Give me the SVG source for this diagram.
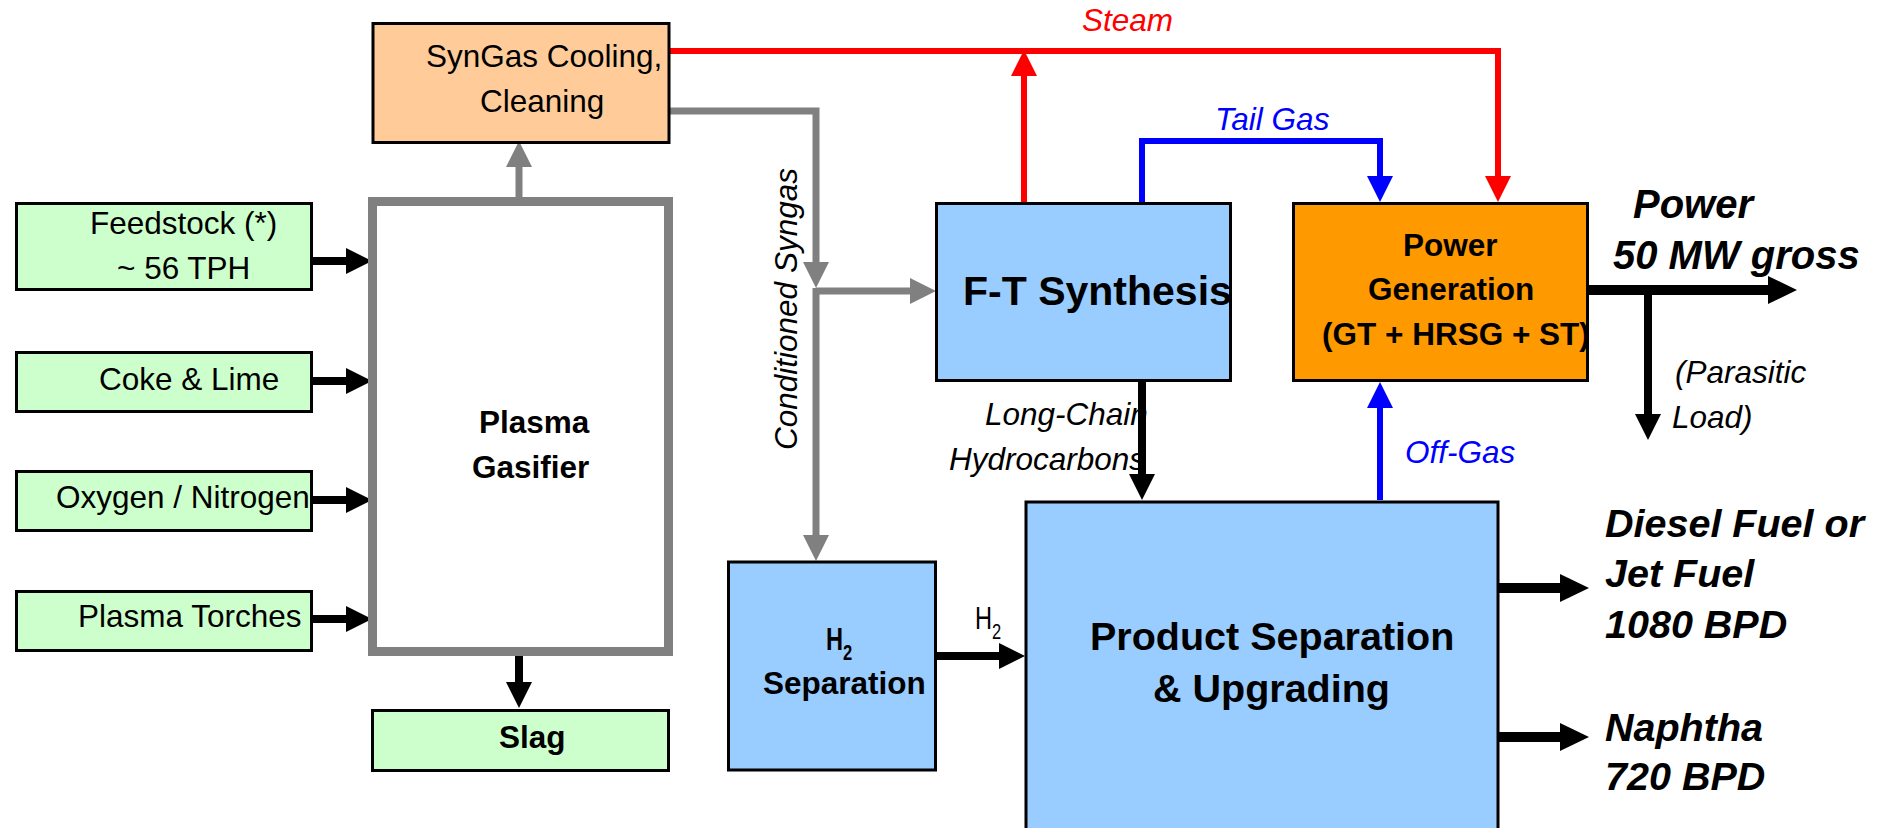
<svg xmlns="http://www.w3.org/2000/svg" width="1882" height="828" viewBox="0 0 1882 828">
<style>
text{font-family:"Liberation Sans",Arial,sans-serif;font-size:31.5px;fill:#000}
.b{font-weight:bold}
.i{font-style:italic}
.bi{font-weight:bold;font-style:italic;font-size:39.5px}
.sub{font-size:22px}
.box{stroke:#000;stroke-width:3}
.green{fill:#CCFFCC}
.peach{fill:#FFCC99}
.blue{fill:#99CCFF}
.orange{fill:#FF9900}
.k{stroke:#000;stroke-width:8;fill:none}
.kw{stroke:#000;stroke-width:10;fill:none}
.g{stroke:#808080;stroke-width:7;fill:none}
.r{stroke:#FF0000;stroke-width:6;fill:none}
.bl{stroke:#0000FF;stroke-width:6;fill:none}
</style>
<defs>
<marker id="ak" markerUnits="userSpaceOnUse" markerWidth="26" markerHeight="26" refX="1" refY="13" orient="auto"><path d="M0,0 L26,13 L0,26 z" fill="#000"/></marker>
<marker id="akL" markerUnits="userSpaceOnUse" markerWidth="29" markerHeight="28" refX="1" refY="14" orient="auto"><path d="M0,0 L29,14 L0,28 z" fill="#000"/></marker>
<marker id="ag" markerUnits="userSpaceOnUse" markerWidth="26" markerHeight="26" refX="1" refY="13" orient="auto"><path d="M0,0 L26,13 L0,26 z" fill="#808080"/></marker>
<marker id="ar" markerUnits="userSpaceOnUse" markerWidth="26" markerHeight="26" refX="1" refY="13" orient="auto"><path d="M0,0 L26,13 L0,26 z" fill="#FF0000"/></marker>
<marker id="ab" markerUnits="userSpaceOnUse" markerWidth="26" markerHeight="26" refX="1" refY="13" orient="auto"><path d="M0,0 L26,13 L0,26 z" fill="#0000FF"/></marker>
</defs>
<rect width="1882" height="828" fill="#fff"/>

<g id="connectors">
<line class="k" x1="313" y1="261" x2="347" y2="261" marker-end="url(#ak)"/>
<line class="k" x1="313" y1="381" x2="347" y2="381" marker-end="url(#ak)"/>
<line class="k" x1="313" y1="500" x2="347" y2="500" marker-end="url(#ak)"/>
<line class="k" x1="313" y1="619" x2="347" y2="619" marker-end="url(#ak)"/>
<line class="g" x1="519" y1="197" x2="519" y2="166" marker-end="url(#ag)"/>
<line class="k" x1="519" y1="655" x2="519" y2="683" marker-end="url(#ak)"/>
<polyline class="g" points="670,111 816,111 816,263" marker-end="url(#ag)"/>
<line class="g" x1="816" y1="288" x2="816" y2="536" marker-end="url(#ag)"/>
<line class="g" x1="816" y1="291" x2="911" y2="291" marker-end="url(#ag)"/>
<polyline class="r" points="670,51 1498,51 1498,177" marker-end="url(#ar)"/>
<line class="r" x1="1024" y1="202" x2="1024" y2="75" marker-end="url(#ar)"/>
<polyline class="bl" points="1142,202 1142,141 1380,141 1380,177" marker-end="url(#ab)"/>
<line class="bl" x1="1380" y1="500" x2="1380" y2="407" marker-end="url(#ab)"/>
<line class="k" x1="1142" y1="382" x2="1142" y2="475" marker-end="url(#ak)"/>
<line class="k" x1="937" y1="656" x2="1000" y2="656" marker-end="url(#ak)"/>
<line class="kw" x1="1589" y1="290" x2="1769" y2="290" marker-end="url(#akL)"/>
<line class="k" x1="1648" y1="290" x2="1648" y2="415" marker-end="url(#ak)"/>
<line class="kw" x1="1499" y1="588" x2="1561" y2="588" marker-end="url(#akL)"/>
<line class="kw" x1="1499" y1="737" x2="1561" y2="737" marker-end="url(#akL)"/>
<text class="i" transform="translate(797,450) rotate(-90)">Conditioned Syngas</text>
<text class="i" x="1082" y="31" style="fill:#FF0000">Steam</text>
<text class="i" x="1215" y="130" style="fill:#0000FF">Tail Gas</text>
<text class="i" x="1405" y="463" style="fill:#0000FF">Off-Gas</text>
<text class="i" x="985" y="425">Long-Chain</text>
<text class="i" x="949" y="470">Hydrocarbons</text>
<text transform="translate(975,629) scale(0.75,1)">H<tspan class="sub" dy="10">2</tspan></text>
<text class="bi" x="1633" y="218" style="font-size:40px">Power</text>
<text class="bi" x="1613" y="269" style="font-size:40px">50 MW gross</text>
<text class="i" x="1675" y="383">(Parasitic</text>
<text class="i" x="1672" y="428">Load)</text>
<text class="bi" x="1605" y="537">Diesel Fuel or</text>
<text class="bi" x="1605" y="587">Jet Fuel</text>
<text class="bi" x="1605" y="638">1080 BPD</text>
<text class="bi" x="1605" y="741">Naphtha</text>
<text class="bi" x="1605" y="790">720 BPD</text>
</g>

<g id="syngas-cooling">
<rect class="box peach" x="373" y="23.5" width="296" height="119"/>
<text x="426" y="67">SynGas Cooling,</text>
<text x="480" y="112">Cleaning</text>
</g>
<g id="feedstock">
<rect class="box green" x="16.5" y="203.5" width="295" height="86"/>
<text x="90" y="234">Feedstock (*)</text>
<text x="117" y="279">~ 56 TPH</text>
</g>
<g id="coke-lime">
<rect class="box green" x="16.5" y="352.5" width="295" height="59"/>
<text x="99" y="390">Coke &amp; Lime</text>
</g>
<g id="oxygen-nitrogen">
<rect class="box green" x="16.5" y="471.5" width="295" height="59"/>
<text x="56" y="508">Oxygen / Nitrogen</text>
</g>
<g id="plasma-torches">
<rect class="box green" x="16.5" y="591.5" width="295" height="59"/>
<text x="78" y="627">Plasma Torches</text>
</g>
<g id="plasma-gasifier">
<rect x="372.5" y="201.5" width="296" height="450" fill="#fff" stroke="#808080" stroke-width="9"/>
<text class="b" x="479" y="433">Plasma</text>
<text class="b" x="472" y="478">Gasifier</text>
</g>
<g id="slag">
<rect class="box green" x="372.5" y="710.5" width="296" height="60"/>
<text class="b" x="499" y="748">Slag</text>
</g>
<g id="ft-synthesis">
<rect class="box blue" x="936.5" y="203.5" width="294" height="177"/>
<text class="b" x="963" y="305" style="font-size:41px">F-T Synthesis</text>
</g>
<g id="power-generation">
<rect class="box orange" x="1293.5" y="203.5" width="294" height="177"/>
<text class="b" x="1403" y="256">Power</text>
<text class="b" x="1368" y="300">Generation</text>
<text class="b" x="1322" y="345">(GT + HRSG + ST)</text>
</g>
<g id="h2-separation">
<rect class="box blue" x="728.5" y="562" width="207" height="208"/>
<text class="b" transform="translate(826,650) scale(0.75,1)">H<tspan class="sub" dy="10">2</tspan></text>
<text class="b" x="763" y="694">Separation</text>
</g>
<g id="product-separation">
<rect class="box blue" x="1026" y="502" width="472" height="340"/>
<text class="b" x="1090" y="650" style="font-size:39.5px">Product Separation</text>
<text class="b" x="1153" y="702" style="font-size:39.5px">&amp; Upgrading</text>
</g>
</svg>
